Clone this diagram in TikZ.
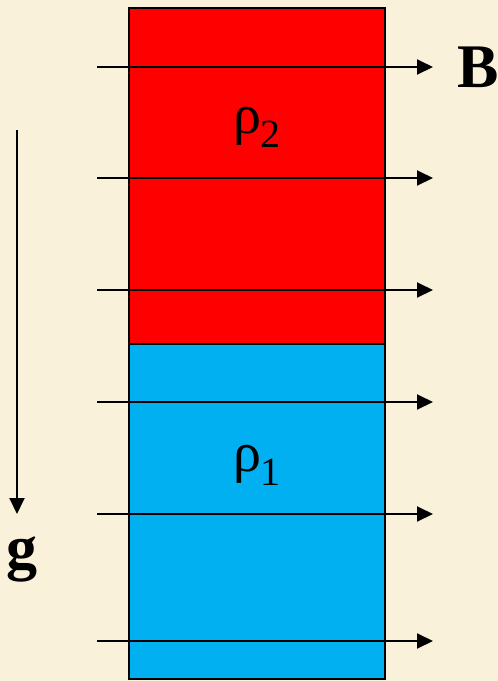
\documentclass[tikz,border=0pt]{standalone}
\usepackage{fontspec}
\setmainfont{Liberation Serif}
\usetikzlibrary{arrows.meta}
\definecolor{bg}{RGB}{250,241,218}
\definecolor{layerred}{RGB}{255,0,0}
\definecolor{layerblue}{RGB}{0,176,240}
\tikzset{
  layer/.style={draw=black, line width=2pt},
  fieldline/.style={draw=black, line width=2pt, -{Triangle[length=16pt,width=15pt]}},
  biglabel/.style={font=\fontsize{62}{62}\selectfont\bfseries, inner sep=0pt},
  rholabel/.style={font=\fontsize{56}{56}\selectfont, inner sep=0pt}
}
\begin{document}
\begin{tikzpicture}[x=1pt,y=-1pt]
  \fill[bg] (0,0) rectangle (498,681);
  \useasboundingbox (0,0) rectangle (498,681);
  \path[layer, fill=layerred] (129,8) rectangle (385,344);
  \path[layer, fill=layerblue] (129,344) rectangle (385,679);
  \node[rholabel] (r2) at (257,127) {ρ\raisebox{-0.25em}{\fontsize{40}{40}\selectfont 2}};
  \node[rholabel] (r1) at (257,465) {ρ\raisebox{-0.25em}{\fontsize{40}{40}\selectfont 1}};
  \foreach \y [count=\i] in {67,178,290,402,514,641} {
    \coordinate (s\i) at (97,\y);
    \coordinate (e\i) at (433,\y);
    \draw[fieldline] (s\i) -- (e\i);
  }
  \node[biglabel] (B) at (478,67) {B};
  \coordinate (gtop) at (17,130);
  \coordinate (gbot) at (17,514);
  \draw[fieldline] (gtop) -- (gbot);
  \node[biglabel] (g) at (22,559) {g};
\end{tikzpicture}
\end{document}
